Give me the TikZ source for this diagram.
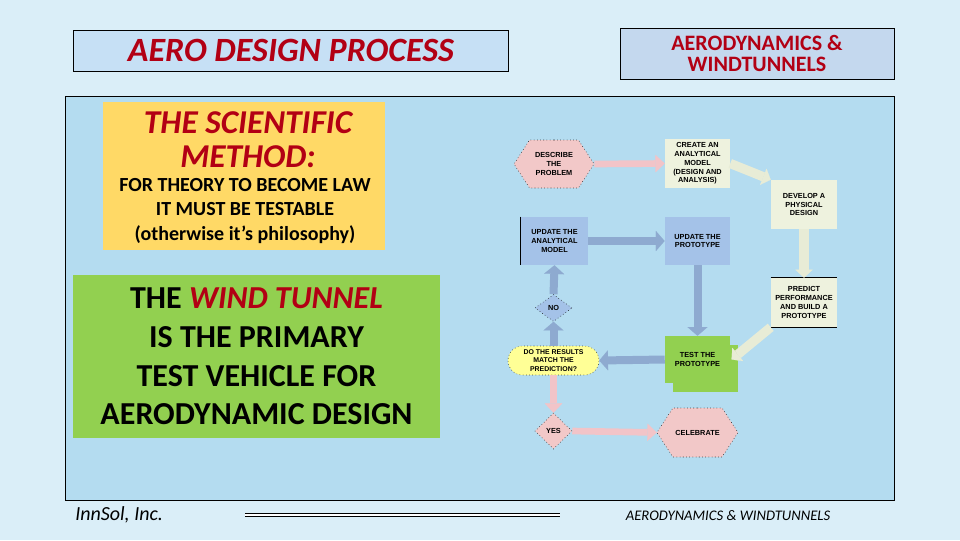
\documentclass[tikz,border=0pt]{standalone}
\usepackage{fontspec}
\setmainfont{Carlito}
\newfontfamily\arialfont{Liberation Sans}
\usetikzlibrary{shapes.geometric,shapes.misc,shapes.symbols,arrows.meta,shadows}
\definecolor{pagebg}{RGB}{218,238,248}
\definecolor{panelbg}{RGB}{180,220,240}
\definecolor{titlebg}{RGB}{198,224,245}
\definecolor{titlebgb}{RGB}{196,216,238}
\definecolor{darkred}{RGB}{178,0,20}
\definecolor{yellowbg}{RGB}{255,217,102}
\definecolor{greenbg}{RGB}{146,208,80}
\definecolor{pinkfill}{RGB}{242,200,200}
\definecolor{creamfill}{RGB}{238,242,222}
\definecolor{bluefill}{RGB}{164,194,232}
\definecolor{bluearrow}{RGB}{142,170,208}
\definecolor{stadiumfill}{RGB}{255,255,150}
\definecolor{pinkarrow}{RGB}{242,196,200}
\definecolor{creamarrow}{RGB}{232,236,214}
\tikzset{
  plainbox/.style={rectangle, inner sep=0pt},
  ftext/.style={font=\arialfont\bfseries\fontsize{5.5}{6.6}\selectfont, align=center, text=black, inner sep=0pt},
  hexnode/.style={ftext, signal, signal to=west and east, signal pointer angle=114, fill=pinkfill, draw=black, dotted, minimum width=60pt, minimum height=36pt},
  creambox/.style={ftext, rectangle, fill=creamfill, minimum width=49.5pt, minimum height=36.75pt},
  bluebox/.style={ftext, rectangle, fill=bluefill, minimum width=49pt, minimum height=36pt},
  diamondnode/.style={ftext, diamond, draw=black, dotted, minimum width=27.75pt},
  blarr/.style={draw=bluearrow, line width=6pt, -{Triangle[width=15pt,length=6.5pt,line width=0.1pt]}},
  pkarr/.style={draw=pinkarrow, line width=5pt, -{Triangle[width=13pt,length=7pt,line width=0.1pt]}},
  crarr/.style={draw=creamarrow, line width=7pt, -{Triangle[width=13pt,length=6pt,line width=0.1pt]}},
}
\begin{document}
\begin{tikzpicture}[x=0.75pt,y=-0.75pt]
\useasboundingbox (0,0) rectangle (960,540);
\fill[pagebg] (0,0) rectangle (960,540);

% titles
\node[plainbox, draw=black, fill=titlebg, minimum width=326.25pt, minimum height=30.75pt,
      font=\bfseries\itshape\fontsize{25.5}{28}\selectfont, text=darkred] (title1) at (291,50.5) {AERO DESIGN PROCESS};
\node[plainbox, draw=black, fill=titlebgb, minimum width=205.5pt, minimum height=38.25pt,
      font=\bfseries\fontsize{16.5}{16}\selectfont, text=darkred, align=center] (title2) at (757,53.5) {AERODYNAMICS \&\\WINDTUNNELS};

% panel
\node[plainbox, draw=black, line width=0.75pt, fill=panelbg, minimum width=621.75pt, minimum height=303pt] (panel) at (479.5,298) {};

% yellow box
\node[plainbox, fill=yellowbg, minimum width=211.5pt, minimum height=111pt] (yellow) at (244,176) {};
\node[font=\bfseries\itshape\fontsize{25}{25.5}\selectfont, text=darkred, align=center, inner sep=0pt] (sci) at (248,140) {THE SCIENTIFIC\\METHOD:};
\node[font=\bfseries\fontsize{15}{18.4}\selectfont, align=center, inner sep=0pt] (law) at (245,211) {FOR THEORY TO BECOME LAW\\IT MUST BE TESTABLE\\(otherwise it’s philosophy)};

% green box
\node[plainbox, fill=greenbg, minimum width=275.25pt, minimum height=122.25pt,
      font=\bfseries\fontsize{24}{29}\selectfont, align=center] (green) at (256.5,356.5)
      {THE {\itshape\color{darkred}WIND TUNNEL}\\IS THE PRIMARY\\TEST VEHICLE FOR\\AERODYNAMIC DESIGN};

% footer
\node[font=\itshape\fontsize{15}{16}\selectfont, anchor=west, inner sep=0pt] (innsol) at (75,515) {InnSol, Inc.};
\coordinate (dlA) at (245,515);
\coordinate (dlB) at (560,515);
\draw[black, line width=1.3pt, double=white, double distance=0.9pt] (dlA) -- (dlB);
\node[font=\itshape\fontsize{11}{12}\selectfont, inner sep=0pt] (foot) at (728,516) {AERODYNAMICS \& WINDTUNNELS};

% flowchart nodes
\node[hexnode] (desc) at (554,164) {DESCRIBE\\THE\\PROBLEM};
\node[creambox, minimum width=48.75pt] (create) at (697.5,163.5) {CREATE AN\\ANALYTICAL\\MODEL\\(DESIGN AND\\ANALYSIS)};
\node[creambox] (develop) at (804,204.5) {DEVELOP A\\PHYSICAL\\DESIGN};
\node[creambox] (predict) at (804,302.5) {PREDICT\\PERFORMANCE\\AND BUILD A\\PROTOTYPE};
\node[bluebox] (updproto) at (697.5,241) {UPDATE THE\\PROTOTYPE};
\node[bluebox, minimum width=50.25pt] (updanal) at (554.5,241) {UPDATE THE\\ANALYTICAL\\MODEL};
\node[ftext, rectangle, fill=greenbg, minimum width=48.75pt, minimum height=35.25pt,
      general shadow={fill=greenbg, shadow xshift=6pt, shadow yshift=-6.75pt}] (test) at (697.5,359.5) {TEST THE\\PROTOTYPE};
\node[diamondnode, fill=bluefill, minimum height=20.25pt] (no) at (553.5,308) {NO};
\node[ftext, rounded rectangle, fill=stadiumfill, draw=black, dotted, minimum width=68.25pt, minimum height=21.75pt,
      font=\arialfont\bfseries\fontsize{5.2}{6.3}\selectfont] (do) at (553.5,360.5) {DO THE RESULTS\\MATCH THE\\PREDICTION?};
\node[diamondnode, fill=pinkfill, minimum height=27pt] (yes) at (553.5,431) {YES};
\node[hexnode, minimum width=60.75pt, minimum height=36.75pt] (celebrate) at (697.5,432.5) {CELEBRATE};

% edges on boxes
\draw[black, line width=0.9pt] (updanal.north west) -- (updanal.south west);
\draw[black, line width=0.9pt] (predict.north west) -- (predict.north east);
\draw[black, line width=0.9pt] (predict.south west) -- (predict.south east);

% connectors
\draw[pkarr] (desc.east) -- (create.west);
\draw[crarr] (create.east) -- (develop.north west);
\draw[crarr] (develop.south) -- (predict.north);
\draw[crarr] (predict.south west) -- ([xshift=1pt]test.east);
\draw[blarr] (updanal.east) -- (updproto.west);
\draw[blarr] (updproto.south) -- (test.north);
\draw[blarr] (test.west) -- (do.east);
\draw[blarr] (do.north) -- (no.south);
\draw[blarr] (no.north) -- (updanal.south);
\draw[pkarr] (do.south) -- (yes.north);
\draw[pkarr] (yes.east) -- (celebrate.west);
\end{tikzpicture}
\end{document}
